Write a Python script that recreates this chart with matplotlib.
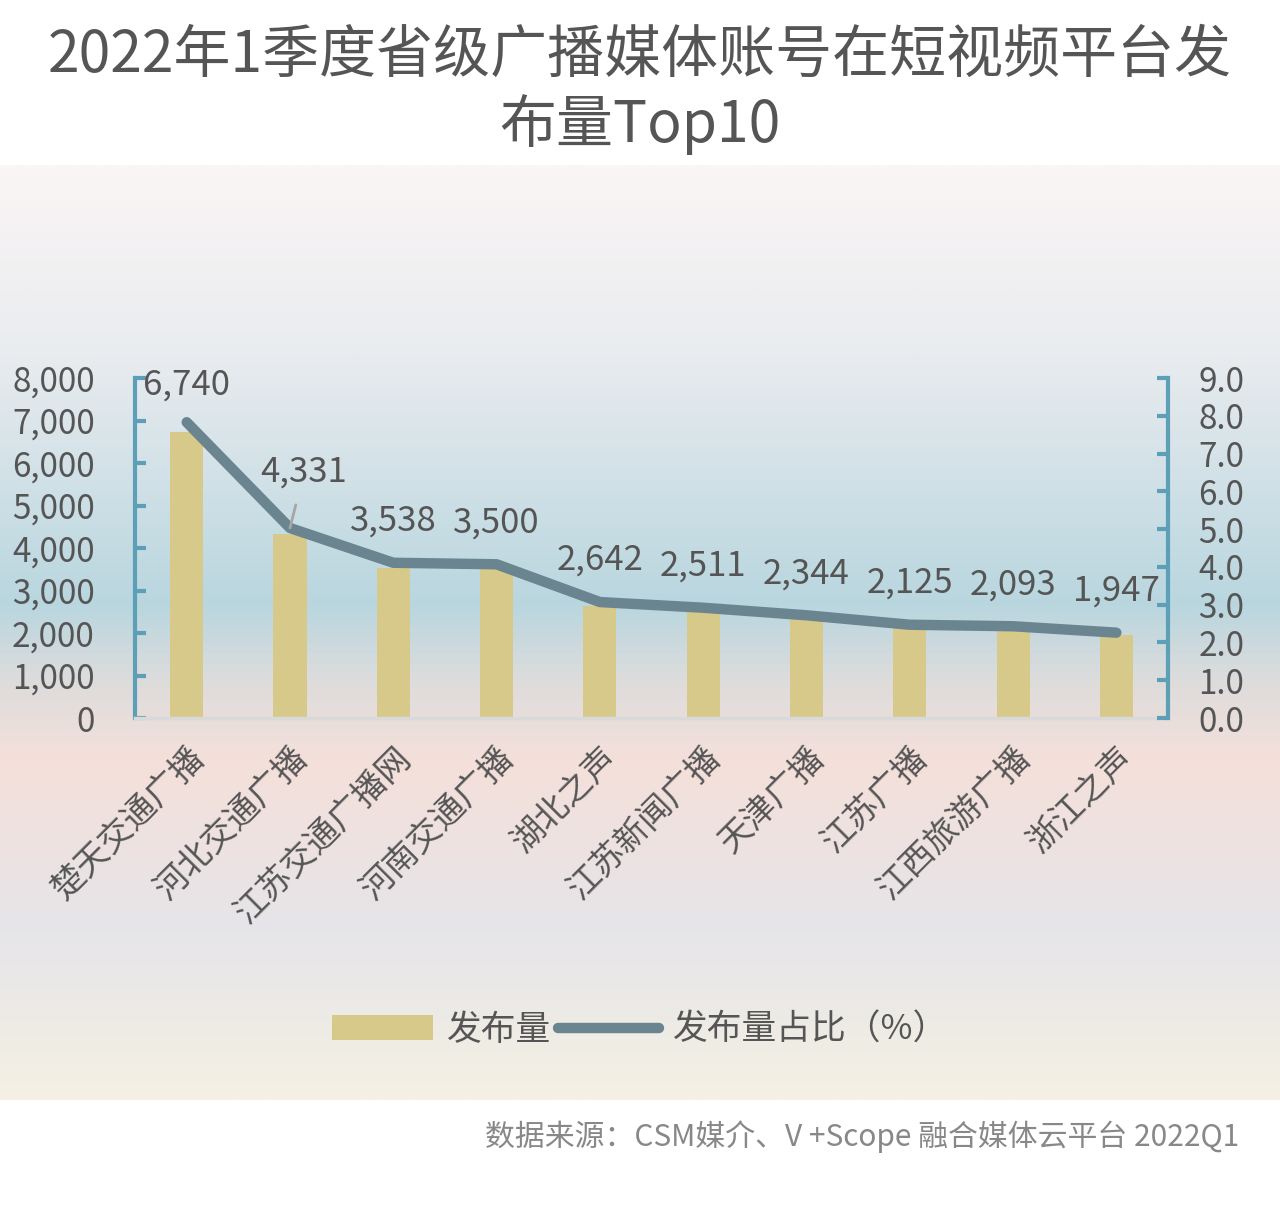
import matplotlib
matplotlib.use("Agg")
import matplotlib.pyplot as plt
import numpy as np
from matplotlib.colors import LinearSegmentedColormap
from matplotlib.patches import Patch
from matplotlib.lines import Line2D

plt.rcParams['font.family'] = ['Noto Sans CJK SC', 'DejaVu Sans']

# data
accounts = ['楚天交通广播', '河北交通广播', '江苏交通广播网', '河南交通广播', '湖北之声',
            '江苏新闻广播', '天津广播', '江苏广播', '江西旅游广播', '浙江之声']
posts = [6740, 4331, 3538, 3500, 2642, 2511, 2344, 2125, 2093, 1947]
share = [7.83, 5.03, 4.11, 4.07, 3.07, 2.92, 2.72, 2.47, 2.43, 2.26]
left_ticks = [0, 1000, 2000, 3000, 4000, 5000, 6000, 7000, 8000]
right_ticks = [0, 1, 2, 3, 4, 5, 6, 7, 8, 9]

BAR = '#d6c98a'
LINE = '#6a8590'
SPINE = '#5d9fb6'
TXT = '#555555'

fig = plt.figure(figsize=(12.8, 12.05), dpi=100)
fig.patch.set_facecolor('white')

# background gradient band
bg = fig.add_axes([0, 0.0871, 1, 0.776], zorder=-10)
stops = [(0.0, '#fbf5f5'), (0.20, '#e9ecef'), (0.47, '#b9d6df'),
         (0.55, '#dcdcdc'), (0.64, '#f5e0da'), (0.82, '#e6e5e9'), (1.0, '#f4f0e3')]
cmap = LinearSegmentedColormap.from_list('bgrad', stops)
bg.imshow(np.linspace(0, 1, 400).reshape(-1, 1), aspect='auto', cmap=cmap,
          extent=[0, 1, 1, 0])
bg.axis('off')

ax = fig.add_axes([0.1055, 0.4041, 0.807, 0.2822])
ax.patch.set_alpha(0)
x = np.arange(len(accounts))
ax.bar(x, posts, width=0.32, color=BAR, zorder=2)
ax.set_xlim(-0.5, len(accounts) - 0.5)
ax.set_ylim(0, 8000)
ax.set_yticks(left_ticks)
ax.set_yticklabels([f'{v:,}' for v in left_ticks])
ax.tick_params(axis='y', direction='in', length=8, width=3, color=SPINE,
               labelsize=24, labelcolor=TXT, pad=29)
ax.set_xticks(x)
ax.set_xticklabels(accounts, rotation=45, ha='right', rotation_mode='anchor',
                   fontsize=24, color=TXT)
ax.tick_params(axis='x', length=0, pad=16)
for s in ['top', 'right']:
    ax.spines[s].set_visible(False)
ax.spines['left'].set_color(SPINE)
ax.spines['left'].set_linewidth(3)
ax.spines['bottom'].set_color('#d9d9d9')
ax.spines['bottom'].set_linewidth(2.5)

ax2 = ax.twinx()
ax2.plot(x, share, color=LINE, lw=7.5, solid_capstyle='round',
         solid_joinstyle='round', zorder=3)
ax2.set_ylim(0, 9)
ax2.set_yticks(right_ticks)
ax2.set_yticklabels([f'{v:.1f}' for v in right_ticks])
ax2.tick_params(axis='y', direction='in', length=8, width=3, color=SPINE,
                labelsize=24, labelcolor=TXT, pad=22)
for s in ['top', 'left', 'bottom']:
    ax2.spines[s].set_visible(False)
ax2.spines['right'].set_color(SPINE)
ax2.spines['right'].set_linewidth(3)

# value labels above the line
for i, (p, s) in enumerate(zip(posts, share)):
    if i == 1:
        ax2.annotate(f'{p:,}', xy=(i, s), xytext=(10, 40), textcoords='offset points',
                     ha='center', va='center', fontsize=25, color=TXT,
                     arrowprops=dict(arrowstyle='-', color='#a6a6a6', lw=2,
                                     shrinkA=9, shrinkB=0))
    else:
        dy = 27 if i == 0 else 30
        ax2.annotate(f'{p:,}', xy=(i, s), xytext=(0, dy), textcoords='offset points',
                     ha='center', va='center', fontsize=25, color=TXT)

# titles
fig.text(0.5, 0.954, '2022年1季度省级广播媒体账号在短视频平台发', ha='center', va='center',
         fontsize=41, color=TXT)
fig.text(0.5, 0.897, '布量Top10', ha='center', va='center', fontsize=41, color=TXT)

# legend
handles = [Patch(facecolor=BAR, edgecolor='none'),
           Line2D([0], [0], color=LINE, lw=7.5, solid_capstyle='round')]
leg = fig.legend(handles, ['发布量', '发布量占比（%）'], loc='center',
                 bbox_to_anchor=(0.5, 0.145), ncol=2, frameon=False, fontsize=25,
                 handlelength=2.9, handletextpad=0.4, columnspacing=0.2)
for t in leg.get_texts():
    t.set_color(TXT)

fig.text(0.968, 0.057, '数据来源：CSM媒介、V +Scope 融合媒体云平台 2022Q1', ha='right',
         va='center', fontsize=21.5, color='#888888')

fig.savefig('out.png', dpi=100, facecolor=fig.get_facecolor())
